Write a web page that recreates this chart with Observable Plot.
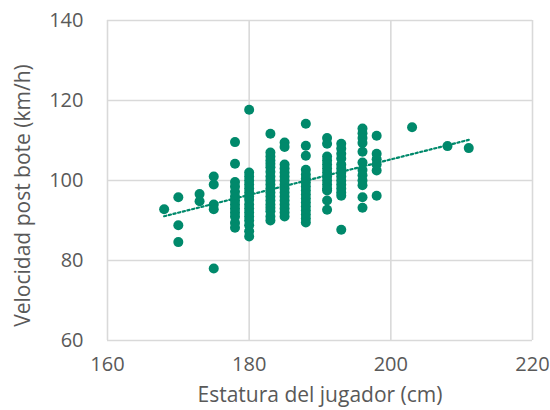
<!DOCTYPE html>
<html>
<head>
<meta charset="utf-8">
<script src="https://cdn.jsdelivr.net/npm/d3@7"></script>
<script src="https://cdn.jsdelivr.net/npm/@observablehq/plot@0.6"></script>
<style>
  body { margin: 0; background: #fff; }
</style>
</head>
<body>
<div id="chart"></div>
<script>
// Estatura de cada grupo de jugadores (cm)
const estaturas = [168, 170, 173, 175, 178, 180, 183, 185, 188, 191, 193, 196, 198, 203, 208, 211];

// Velocidad post bote (km/h) medida para cada estatura
const velocidades = [
  [92.8],
  [95.8, 88.8, 84.6],
  [96.6, 94.8],
  [101, 99, 94, 92.8, 78],
  [109.6, 104.2, 99.6, 98.5, 97.2, 96, 95, 94, 93, 92, 91, 89.4, 88.2],
  [117.7, 102, 101, 100, 99, 98, 97, 96, 95.2, 94, 93, 92, 91, 90, 88.8, 87.3, 86],
  [111.7, 107, 106, 105, 104.2, 103.3, 102.2, 101, 100, 99, 98, 97, 96, 95, 94, 93.2, 92.3, 91, 90],
  [109.5, 108.4, 104, 103, 102, 101, 100, 99, 98, 97, 96, 95, 94, 93, 92, 91],
  [114.2, 108.7, 106.2, 102.7, 101.5, 100.5, 99.5, 98.5, 97.5, 96.5, 95.5, 94.5, 93.5, 92.5, 91.5, 90.5, 89.5],
  [110.6, 109.2, 106, 105, 104, 103, 102, 101, 100, 99, 98, 97.5, 95, 92.7],
  [109.2, 108, 106.7, 105.5, 104, 103, 102, 101, 100, 99, 98, 97, 96.2, 87.7],
  [113, 111.8, 110.6, 109.4, 107.2, 104.5, 102.6, 101.3, 100, 98.8, 95.8, 93.2],
  [111.2, 106.7, 105.3, 104, 102.5, 96.2],
  [113.3],
  [108.6],
  [108.1]
];

const ticksX = [160, 180, 200, 220];
const ticksY = [60, 80, 100, 120, 140];
const tituloX = "Estatura del jugador (cm)";
const tituloY = "Velocidad post bote (km/h)";

// Una fila por jugador
const puntos = estaturas.flatMap((e, i) =>
  velocidades[i].map(v => ({estatura: e, velocidad: v}))
);

const verde = "#00896b";
const gris = "#595959";
const rejilla = "#d9d9d9";

const chart = Plot.plot({
  width: 550,
  height: 410,
  marginLeft: 107,
  marginRight: 18,
  marginTop: 20,
  marginBottom: 70,
  style: {fontFamily: "'Open Sans', sans-serif", fontSize: "20px", color: gris, background: "#fff"},
  x: {domain: [160, 220]},
  y: {domain: [60, 140]},
  marks: [
    Plot.gridX(ticksX, {stroke: rejilla, strokeOpacity: 1, strokeWidth: 1.6}),
    Plot.gridY(ticksY, {stroke: rejilla, strokeOpacity: 1, strokeWidth: 1.6}),
    Plot.axisX(ticksX, {tickSize: 0, tickPadding: 16, label: null, fill: gris, fontSize: 20}),
    Plot.axisY(ticksY, {tickSize: 0, tickPadding: 24, label: null, fill: gris, fontSize: 20}),
    Plot.dot(puntos, {x: "estatura", y: "velocidad", r: 5, fill: verde}),
    Plot.linearRegressionY(puntos, {
      x: "estatura", y: "velocidad", ci: 0,
      stroke: verde, strokeWidth: 2.2, strokeDasharray: "2.2 2.6"
    }),
    Plot.text([tituloX], {frameAnchor: "bottom", dy: 61, fontSize: 21, fill: gris}),
    Plot.text([tituloY], {
      frameAnchor: "left", textAnchor: "middle",
      dx: -84, dy: 15, rotate: -90, fontSize: 21, fill: gris
    })
  ]
});

document.getElementById("chart").append(chart);
</script>
</body>
</html>
